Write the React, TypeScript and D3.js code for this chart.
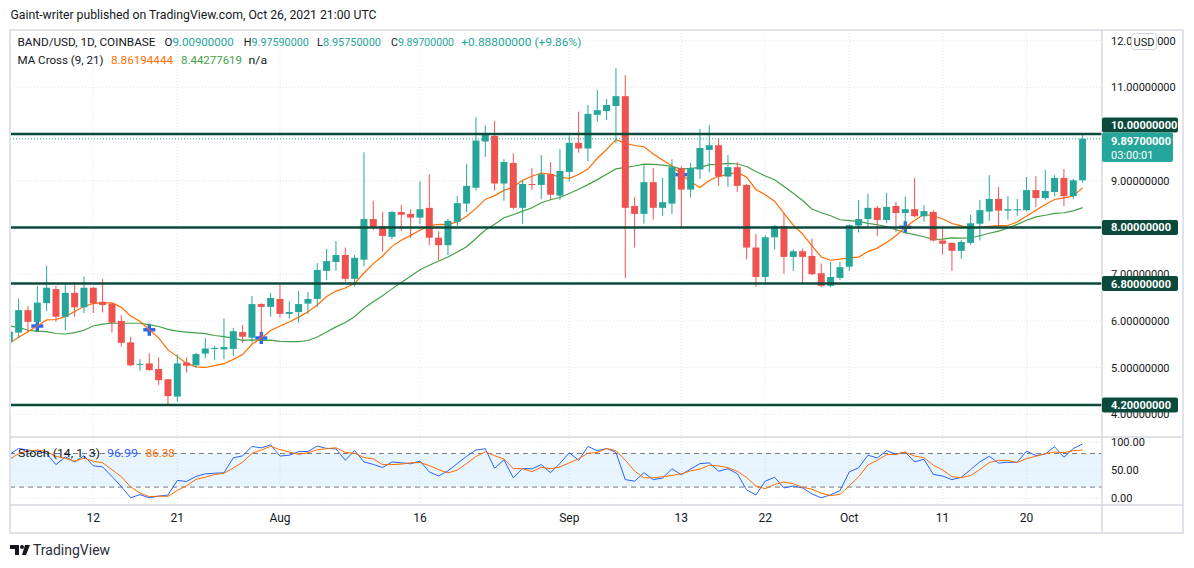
import * as d3 from "d3";
import React from "react";

// BAND/USD daily candles, Jul 3 - Oct 26 2021 (COINBASE)
const firstDay = "2021-07-03";

const open = [
	5.55, 5.75, 6.23, 5.98, 6.38, 6.68, 6.09, 6.6, 6.29, 6.71,
	6.41, 6.37, 6.0, 5.54, 5.06, 5.09, 4.97, 4.75, 4.38, 5.11,
	5.05, 5.3, 5.4, 5.39, 5.4, 5.76, 5.64, 6.36, 6.3, 6.47,
	6.15, 6.19, 6.37, 6.47, 7.07, 7.26, 7.41, 6.9, 7.31, 8.18,
	8.03, 7.8, 8.33, 8.29, 8.21, 8.42, 7.78, 7.62, 8.12, 8.51,
	8.85, 9.84, 9.96, 8.94, 9.38, 8.42, 8.93, 8.91, 9.14, 8.68,
	9.19, 9.81, 9.69, 10.41, 10.49, 10.6, 10.81, 8.46, 8.29, 8.97,
	8.42, 8.51, 9.27, 8.81, 9.24, 9.66, 9.76, 9.09, 9.29, 8.91,
	7.57, 6.94, 7.79, 8.03, 7.37, 7.49, 7.39, 7.02, 6.75, 6.92,
	7.16, 8.04, 8.18, 8.42, 8.16, 8.46, 8.31, 8.39, 8.24, 8.33,
	7.72, 7.67, 7.5, 7.67, 8.08, 8.34, 8.61, 8.36, 8.37, 8.37,
	8.8, 8.63, 8.76, 9.06, 8.67, 9.009,
];
const high = [
	5.8, 6.48, 6.32, 6.75, 7.18, 6.75, 6.77, 6.83, 6.95, 6.73,
	6.9, 6.38, 6.12, 5.66, 5.18, 5.31, 5.22, 4.76, 5.29, 5.22,
	5.32, 5.63, 5.47, 6.05, 5.85, 5.91, 6.53, 6.38, 6.6, 6.78,
	6.42, 6.64, 6.62, 7.24, 7.54, 7.71, 7.57, 7.41, 9.61, 8.57,
	8.33, 8.35, 8.48, 8.39, 8.98, 9.14, 7.92, 8.18, 8.67, 9.36,
	10.36, 10.18, 10.28, 9.46, 9.59, 9.02, 9.27, 9.55, 9.4, 9.68,
	9.97, 10.48, 10.62, 10.94, 10.75, 11.41, 11.26, 8.65, 9.34, 9.27,
	9.06, 9.46, 9.31, 9.38, 10.11, 10.19, 9.91, 9.55, 9.4, 8.93,
	7.86, 7.83, 8.05, 8.3, 7.53, 7.55, 7.76, 7.23, 7.26, 7.26,
	8.07, 8.59, 8.72, 8.46, 8.74, 8.55, 8.66, 9.06, 8.48, 8.37,
	8.03, 7.68, 7.73, 8.27, 8.59, 9.12, 8.87, 8.67, 8.61, 9.08,
	9.1, 9.23, 9.12, 9.25, 9.04, 9.9759,
];
const low = [
	5.5, 5.63, 5.77, 5.87, 6.21, 5.98, 5.8, 6.09, 6.17, 6.17,
	6.18, 5.75, 5.45, 5.03, 4.93, 4.93, 4.63, 4.22, 4.27, 4.89,
	5.0, 5.2, 5.16, 5.18, 5.25, 5.53, 5.53, 5.63, 6.09, 6.07,
	6.05, 5.96, 6.15, 6.3, 6.87, 7.07, 6.84, 6.73, 7.17, 7.94,
	7.48, 7.75, 7.92, 7.77, 8.07, 7.62, 7.3, 7.41, 8.03, 8.33,
	8.79, 9.51, 8.79, 8.57, 8.39, 8.08, 8.8, 8.61, 8.59, 8.59,
	8.98, 9.6, 9.42, 10.26, 10.3, 9.8, 6.92, 7.57, 8.08, 8.17,
	8.25, 8.29, 8.01, 8.64, 9.04, 9.18, 8.89, 8.87, 8.76, 7.32,
	6.73, 6.79, 7.53, 7.01, 7.07, 6.82, 6.98, 6.72, 6.72, 6.87,
	7.07, 7.89, 8.0, 7.82, 8.09, 7.91, 7.94, 8.22, 8.12, 7.7,
	7.42, 7.07, 7.33, 7.63, 7.72, 8.14, 8.02, 8.17, 8.25, 8.34,
	8.44, 8.59, 8.67, 8.46, 8.61, 8.9575,
];
const close = [
	5.77, 6.23, 5.98, 6.39, 6.71, 6.09, 6.6, 6.29, 6.71, 6.38,
	6.34, 5.96, 5.53, 5.05, 5.08, 4.95, 4.73, 4.39, 5.09, 5.04,
	5.29, 5.41, 5.42, 5.44, 5.78, 5.66, 6.36, 6.3, 6.49, 6.15,
	6.19, 6.36, 6.47, 7.09, 7.28, 7.41, 6.9, 7.35, 8.18, 8.0,
	7.82, 8.33, 8.27, 8.21, 8.39, 7.78, 7.62, 8.14, 8.52, 8.89,
	9.86, 9.99, 8.94, 9.4, 8.42, 8.93, 8.91, 9.14, 8.7, 9.21,
	9.81, 9.69, 10.43, 10.51, 10.62, 10.81, 8.42, 8.29, 8.97, 8.42,
	8.54, 9.29, 8.81, 9.27, 9.7, 9.76, 9.09, 9.29, 8.89, 7.57,
	6.94, 7.79, 8.03, 7.37, 7.49, 7.37, 7.0, 6.75, 6.94, 7.15,
	8.05, 8.18, 8.42, 8.16, 8.44, 8.31, 8.39, 8.24, 8.35, 7.72,
	7.65, 7.5, 7.69, 8.09, 8.37, 8.61, 8.36, 8.39, 8.39, 8.8,
	8.63, 8.78, 9.06, 8.67, 9.009, 9.897,
];

// indicator values at the left edge, where the window reaches back before the first visible bar
const ma9Head = [5.52, 5.65, 5.77, 5.89, 6.02, 6.03, 6.09, 6.2];
const ma21Head = [
	5.89, 5.86, 5.8, 5.78, 5.77, 5.73, 5.72, 5.75, 5.8, 5.89,
	5.93, 5.95, 5.95, 5.95, 5.95, 5.92, 5.88, 5.82, 5.78, 5.76,
];
const stochKHead = [78, 89, 86, 84, 80, 60, 74, 65, 76, 58, 56, 39, 21];
const stochDHead = [69, 80];

// legend readouts as the platform printed them
const maLegend = ["8.86194444", "8.44277619"];
const stochLegend = ["96.99", "86.38"];

const levels = [10, 8, 6.8, 4.2];
const priceTicks = [4, 5, 6, 7, 8, 9, 10, 11, 12];
const labelledTicks = [4, 5, 6, 7, 9, 11, 12];
const stochTicks = [100, 50, 0];
const tickDates = [
	"2021-07-12", "2021-07-21", "2021-08-01", "2021-08-16", "2021-09-01",
	"2021-09-13", "2021-09-22", "2021-10-01", "2021-10-11", "2021-10-20",
];
const tickLabels = ["12", "21", "Aug", "16", "Sep", "13", "22", "Oct", "11", "20"];

const up = "#26a69a";
const down = "#ef5350";
const levelColor = "#0b4a3b";
const textColor = "#131722";
const gridColor = "#e3e6ee";
const font = "Roboto, 'Noto Sans', sans-serif";

const plotLeft = 10;
const plotRight = 1102;
const frameRight = 1183;
const top = 30;
const paneSplit = 437;
const axisTop = 505;
const bottom = 533;

function sma(vals: number[], n: number, head: number[]) {
	return vals.map((_, i) =>
		i < head.length ? head[i] : (d3.mean(vals.slice(i - n + 1, i + 1)) as number),
	);
}

// legend piece squeezed to the width it had on screen
const Seg = ({ x, y, w, fill, children }: { x: number; y: number; w: number; fill: string; children: React.ReactNode }) => (
	<text x={x} y={y} fill={fill} textLength={w} lengthAdjust="spacingAndGlyphs">
		{children}
	</text>
);

export default function App() {
	const days = open.map((_, i) => d3.utcDay.offset(new Date(firstDay), i));
	const x = d3
		.scaleUtc()
		.domain([days[0], days[days.length - 1]])
		.range([9.3, 1082.6]);
	const y = d3.scaleLinear().domain([4.2, 10]).range([405, 134]);
	const ys = d3.scaleLinear().domain([0, 100]).range([498.3, 442.3]);
	const fmt = d3.format(".8f");

	const ma9 = sma(close, 9, ma9Head);
	const ma21 = sma(close, 21, ma21Head);

	const stochK = close.map((c, i) => {
		if (i < stochKHead.length) return stochKHead[i];
		const hh = d3.max(high.slice(i - 13, i + 1)) as number;
		const ll = d3.min(low.slice(i - 13, i + 1)) as number;
		return ((c - ll) / (hh - ll)) * 100;
	});
	const stochD = stochK.map((_, i) =>
		i < stochDHead.length ? stochDHead[i] : (d3.mean(stochK.slice(i - 2, i + 1)) as number),
	);

	const crosses: number[] = [];
	for (let i = 1; i < close.length; i++) {
		const a = Math.sign(ma9[i - 1] - ma21[i - 1]);
		const b = Math.sign(ma9[i] - ma21[i]);
		if (a !== b && b !== 0) crosses.push(i);
	}

	const priceLine = d3
		.line<number>()
		.x((_, i) => x(days[i]))
		.y((d) => y(d));
	const stochLine = d3
		.line<number>()
		.x((_, i) => x(days[i]))
		.y((d) => ys(d));

	const last = close.length - 1;
	const tickX = tickDates.map((d) => x(new Date(d)));
	const change = close[last] - open[last];

	return (
		<svg
			width={1194}
			height={568}
			style={{ position: "fixed", left: 0, top: 0, background: "#fff" }}
			fontFamily={font}
		>
			<defs>
				<clipPath id="mainClip">
					<rect x={plotLeft} y={top} width={plotRight - plotLeft} height={paneSplit - top} />
				</clipPath>
				<clipPath id="stochClip">
					<rect x={plotLeft} y={paneSplit} width={plotRight - plotLeft} height={axisTop - paneSplit} />
				</clipPath>
			</defs>

			<text x={10.5} y={19} fontSize={12} fill={textColor} textLength={366} lengthAdjust="spacingAndGlyphs">
				Gaint-writer published on TradingView.com, Oct 26, 2021 21:00 UTC
			</text>

			{/* grid */}
			{tickX.map((tx, i) => (
				<line key={"vg" + i} x1={tx} x2={tx} y1={top} y2={axisTop} stroke={gridColor} strokeDasharray="1 2" />
			))}
			{priceTicks.map((p) => (
				<line key={"hg" + p} x1={plotLeft} x2={plotRight} y1={y(p)} y2={y(p)} stroke={gridColor} strokeDasharray="1 2" />
			))}

			{/* stochastic band */}
			<rect
				x={plotLeft}
				width={plotRight - plotLeft}
				y={ys(80)}
				height={ys(20) - ys(80)}
				fill="rgba(33,150,243,0.1)"
			/>
			{stochTicks.map((t) => (
				<line key={"sg" + t} x1={plotLeft} x2={plotRight} y1={ys(t)} y2={ys(t)} stroke={gridColor} strokeDasharray="1 2" />
			))}
			{[80, 20].map((t) => (
				<line key={"sb" + t} x1={plotLeft} x2={plotRight} y1={ys(t)} y2={ys(t)} stroke="#787b86" strokeDasharray="5 4" />
			))}
			<g clipPath="url(#stochClip)" fill="none">
				<path d={stochLine(stochK) ?? ""} stroke="#2962ff" strokeWidth={1} />
				<path d={stochLine(stochD) ?? ""} stroke="#ff6d00" strokeWidth={1} />
			</g>

			<g clipPath="url(#mainClip)">
				{crosses.map((i) => (
					<g key={"x" + i} fill="#2962ff">
						<rect x={x(days[i]) - 6} y={y(ma9[i]) - 1.7} width={12} height={3.4} />
						<rect x={x(days[i]) - 1.7} y={y(ma9[i]) - 6} width={3.4} height={12} />
					</g>
				))}
				<path d={priceLine(ma21) ?? ""} fill="none" stroke="#43a047" strokeWidth={1.2} />
				<path d={priceLine(ma9) ?? ""} fill="none" stroke="#ff6d00" strokeWidth={1.2} />

				{days.map((d, i) => {
					const isUp = close[i] >= open[i];
					const c = isUp ? up : down;
					const cx = x(d);
					const yTop = y(Math.max(open[i], close[i]));
					const yBot = y(Math.min(open[i], close[i]));
					return (
						<g key={i}>
							<line x1={cx} x2={cx} y1={y(high[i])} y2={y(low[i])} stroke={c} strokeWidth={1} />
							<rect x={cx - 3.5} width={7} y={yTop} height={Math.max(1, yBot - yTop)} fill={c} />
						</g>
					);
				})}

				<line
					x1={plotLeft}
					x2={plotRight}
					y1={y(close[last])}
					y2={y(close[last])}
					stroke={up}
					strokeDasharray="1 2"
				/>
				{levels.map((l) => (
					<line key={"lv" + l} x1={plotLeft} x2={plotRight} y1={y(l)} y2={y(l)} stroke={levelColor} strokeWidth={2.5} />
				))}
			</g>

			{/* legends */}
			<g fontSize={11.5}>
				<Seg x={17.5} y={46} w={138} fill={textColor}>BAND/USD, 1D, COINBASE</Seg>
				<Seg x={164.6} y={46} w={69} fill={textColor}>
					O<tspan fill={up}>{fmt(open[last])}</tspan>
				</Seg>
				<Seg x={243.8} y={46} w={65} fill={textColor}>
					H<tspan fill={up}>{fmt(high[last])}</tspan>
				</Seg>
				<Seg x={317} y={46} w={64} fill={textColor}>
					L<tspan fill={up}>{fmt(low[last])}</tspan>
				</Seg>
				<Seg x={391} y={46} w={63} fill={textColor}>
					C<tspan fill={up}>{fmt(close[last])}</tspan>
				</Seg>
				<Seg x={461.3} y={46} w={120} fill={up}>
					{"+" + fmt(change) + " (+" + d3.format(".2f")((change / open[last]) * 100) + "%)"}
				</Seg>
				<Seg x={17.5} y={64} w={86} fill={textColor}>MA Cross (9, 21)</Seg>
				<Seg x={111} y={64} w={62} fill="#ff6d00">{maLegend[0]}</Seg>
				<Seg x={181} y={64} w={61} fill="#43a047">{maLegend[1]}</Seg>
				<Seg x={248.6} y={64} w={18.5} fill={textColor}>n/a</Seg>
				<Seg x={18} y={457} w={82} fill={textColor}>Stoch (14, 1, 3)</Seg>
				<Seg x={107} y={457} w={31} fill="#2962ff">{stochLegend[0]}</Seg>
				<Seg x={145.7} y={457} w={29} fill="#ff6d00">{stochLegend[1]}</Seg>
			</g>

			{/* frame and separators */}
			<rect x={plotLeft} y={top} width={frameRight - plotLeft} height={bottom - top} fill="none" stroke="#e0e3eb" strokeWidth={2} />
			<line x1={plotLeft} x2={frameRight} y1={paneSplit} y2={paneSplit} stroke="#d6d9e1" strokeWidth={1.5} />
			<line x1={plotLeft} x2={frameRight} y1={axisTop} y2={axisTop} stroke="#d6d9e1" strokeWidth={1.5} />
			<line x1={plotRight} x2={plotRight} y1={top} y2={bottom} stroke="#d6d9e1" strokeWidth={1.5} />

			{/* price axis */}
			<g fontSize={11} fill={textColor}>
				{labelledTicks.map((p) => (
					<text key={"pt" + p} x={1111} y={y(p) + 4}>{fmt(p)}</text>
				))}
				{stochTicks.map((t) => (
					<text key={"st" + t} x={1111} y={ys(t) + 4}>{d3.format(".2f")(t)}</text>
				))}
			</g>
			<rect x={1131.5} y={33.5} width={25} height={16} rx={3} fill="#fff" stroke="#d1d4dc" />
			<text x={1144} y={45.5} fontSize={11} textAnchor="middle" fill={textColor}>USD</text>

			{levels.map((l) => {
				const cy = l === 10 ? 125 : y(l);
				return (
					<g key={"ll" + l}>
						<rect x={plotRight} y={cy - 7.5} width={76} height={15} rx={2} fill={levelColor} />
						<text x={1111} y={cy + 4} fontSize={11} fontWeight={700} fill="#fff">{fmt(l)}</text>
					</g>
				);
			})}
			<rect x={plotRight} y={132.5} width={71} height={29.5} rx={2} fill={up} />
			<text x={1111} y={145} fontSize={11} fontWeight={700} fill="#fff">{fmt(close[last])}</text>
			<text x={1111} y={158.5} fontSize={11} fill="#fff">03:00:01</text>

			{/* time axis */}
			<g fontSize={12} fill={textColor} textAnchor="middle">
				{tickX.map((tx, i) => (
					<text key={"tl" + i} x={tx} y={522}>{tickLabels[i]}</text>
				))}
			</g>

			{/* TradingView mark */}
			<g fill="#131722">
				<path d="M10,545 H19 V555 H15 V549 H10 Z" />
				<circle cx={22} cy={547} r={2} />
				<path d="M25,545 H30 L26,555 H22 Z" />
			</g>
			<text x={33} y={555} fontSize={14} fill="#2a2e39">TradingView</text>
		</svg>
	);
}
